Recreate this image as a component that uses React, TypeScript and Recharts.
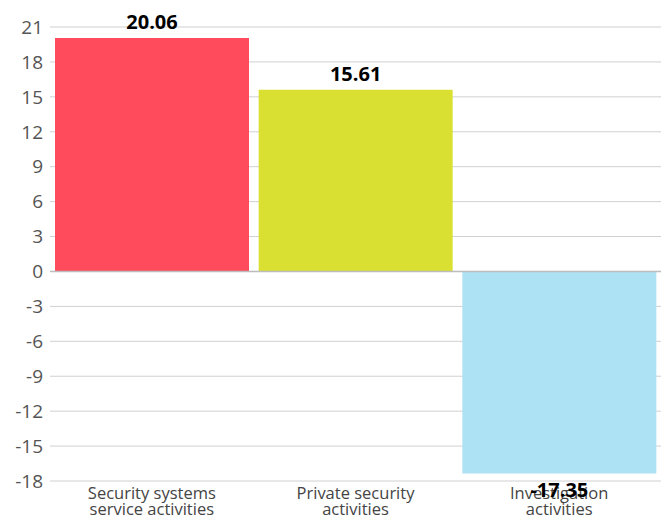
import React from "react";
import {
  BarChart,
  Bar,
  XAxis,
  YAxis,
  CartesianGrid,
  ReferenceLine,
  LabelList,
  Cell,
} from "recharts";

const categories = [
  "Security systems service activities",
  "Private security activities",
  "Investigation activities",
];
const tickLines = [
  ["Security systems", "service activities"],
  ["Private security", "activities"],
  ["Investigation", "activities"],
];
const values = [20.06, 15.61, -17.35];
const colors = ["#FF4B5B", "#D9E032", "#ADE1F4"];
const yTicks = [-18, -15, -12, -9, -6, -3, 0, 3, 6, 9, 12, 15, 18, 21];

const data = categories.map((name, i) => ({ name, value: values[i], idx: i }));

const FONT = "'Open Sans', 'Noto Sans', sans-serif";

function CategoryTick(props: any) {
  const { x, y, index } = props;
  const lines = tickLines[index] || [];
  return (
    <text x={x} y={y} textAnchor="middle" fill="#444" fontSize={16.5} fontFamily={FONT}>
      {lines.map((l, i) => (
        <tspan key={i} x={x} dy={i === 0 ? 10 : 16}>
          {l}
        </tspan>
      ))}
    </text>
  );
}

function ValueLabel(props: any) {
  const { x, y, width, height, value } = props;
  const cx = x + width / 2;
  const neg = value < 0;
  const top = Math.min(y, y + height);
  const bottom = Math.max(y, y + height);
  const ty = neg ? bottom + 24 : top - 9;
  return (
    <text x={cx} y={ty} textAnchor="middle" fill="#000" fontWeight="bold" fontSize={20} fontFamily={FONT}>
      {value.toFixed(2)}
    </text>
  );
}

export default function App() {
  return (
    <div style={{ position: "absolute", left: 0, top: 0, width: 667, height: 520, background: "#fff" }}>
      <BarChart
        width={667}
        height={520}
        data={data}
        margin={{ top: 27, right: 6, bottom: 0, left: 0 }}
        barCategoryGap={5}
      >
        <CartesianGrid vertical={false} stroke="#d0d0d0" />
        <XAxis
          dataKey="name"
          height={39}
          axisLine={false}
          tickLine={false}
          interval={0}
          tick={<CategoryTick />}
        />
        <YAxis
          width={50}
          domain={[-18, 21]}
          ticks={yTicks}
          interval={0}
          axisLine={false}
          tickLine={false}
          tick={{ fill: "#555", fontSize: 19, fontFamily: FONT }}
          tickMargin={1}
        />
        <ReferenceLine y={0} stroke="#bdbdbd" strokeWidth={1.5} />
        <Bar dataKey="value" isAnimationActive={false}>
          {data.map((d, i) => (
            <Cell key={i} fill={colors[i]} />
          ))}
          <LabelList dataKey="value" content={<ValueLabel />} />
        </Bar>
      </BarChart>
    </div>
  );
}
